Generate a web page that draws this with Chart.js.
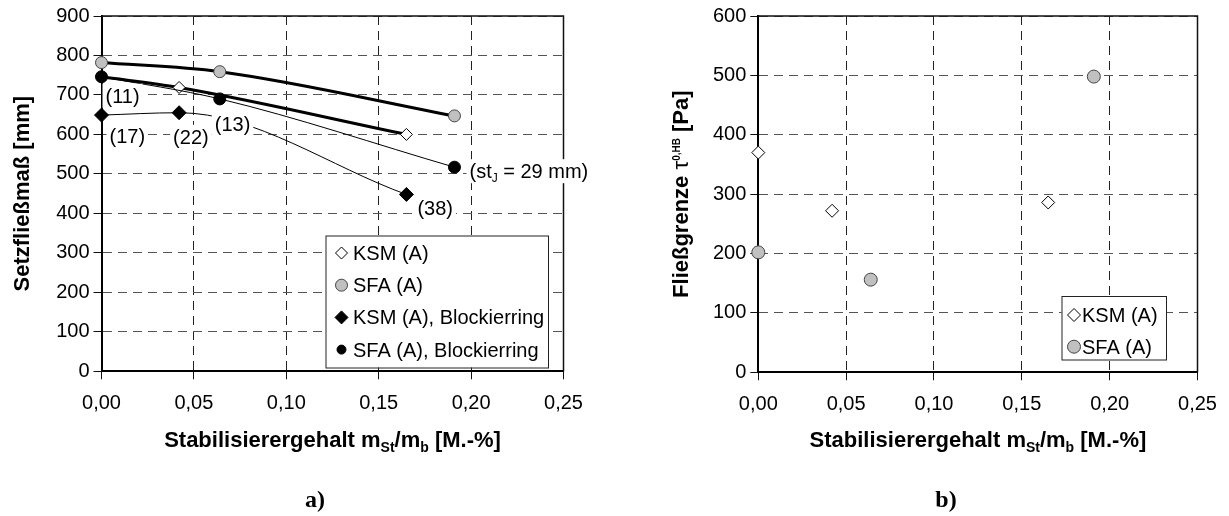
<!DOCTYPE html>
<html>
<head>
<meta charset="utf-8">
<script src="https://cdn.jsdelivr.net/npm/chart.js@4.4.0/dist/chart.umd.min.js"></script>
<style>
  html, body { margin: 0; padding: 0; background: #fff; }
  #wrap { position: relative; width: 1229px; height: 516px; overflow: hidden; }
  canvas { position: absolute; top: 0; }
  #chartA { left: 0; }
  #chartB { left: 615px; }
  .tag { position: absolute; top: 486px; transform: translateX(-50%);
         font: bold 24px 'Liberation Serif', 'Times New Roman', serif; color: #000; }
</style>
</head>
<body>
<div id="wrap">
  <canvas id="chartA" width="615" height="516"></canvas>
  <canvas id="chartB" width="614" height="516"></canvas>
  <div class="tag" style="left:315px">a)</div>
  <div class="tag" style="left:946px">b)</div>
</div>
<script>
// Stabilisierergehalt m_St/m_b [M.-%]
const ksmX = [0, 0.042, 0.165];
const sfaX = [0, 0.064, 0.191];

// a) Setzfließmaß [mm]
const ksmSlump = [746, 719, 600];
const sfaSlump = [782, 759, 647];
const ksmRingSlump = [649, 655, 448];
const sfaRingSlump = [746, 690, 517];

// Stufenhöhe st_J beim Blockierring [mm]
const ksmRingStep = [17, 22, 38];
const sfaRingStep = [11, 13, 29];

// b) Fließgrenze tau_0,HB [Pa]
const ksmYield = [370, 272, 286];
const sfaYield = [202, 156, 498];

const xTicks = [0, 0.05, 0.1, 0.15, 0.2, 0.25];

const FONT = "'Liberation Sans', Arial, Helvetica, sans-serif";
const font = (size, bold) => (bold ? 'bold ' : '') + size + 'px ' + FONT;
const pts = (xs, ys) => xs.map((x, i) => ({ x, y: ys[i] }));

// text made of runs with own size / baseline shift (for sub- and superscripts)
function richWidth(ctx, parts) {
  let w = 0;
  parts.forEach(p => { ctx.font = font(p.size, p.bold); w += ctx.measureText(p.t).width; });
  return w;
}
function drawRich(ctx, parts, x, y, align) {
  let cx = align === 'center' ? x - richWidth(ctx, parts) / 2 : x;
  ctx.textBaseline = 'alphabetic';
  ctx.textAlign = 'left';
  parts.forEach(p => {
    ctx.font = font(p.size, p.bold);
    ctx.fillText(p.t, cx, y + (p.dy || 0));
    cx += ctx.measureText(p.t).width;
  });
}

function drawMarker(ctx, style, r, fill, stroke, x, y) {
  ctx.beginPath();
  if (style === 'rectRot') {
    ctx.moveTo(x, y - r); ctx.lineTo(x + r, y); ctx.lineTo(x, y + r); ctx.lineTo(x - r, y);
    ctx.closePath();
  } else {
    ctx.arc(x, y, r, 0, Math.PI * 2);
  }
  ctx.fillStyle = fill; ctx.fill();
  ctx.lineWidth = 1; ctx.strokeStyle = stroke; ctx.stroke();
}

function stepParts(v, long) {
  if (long) {
    return [{ t: '(st', size: 20 }, { t: 'J', size: 12, dy: 4 }, { t: ' = ' + v + ' mm)', size: 20 }];
  }
  return [{ t: '(' + v + ')', size: 20 }];
}

// frame, axis titles, step-height notes and legend
function decor(cfg) {
  return {
    id: 'decor',
    afterDraw(chart) {
      const ctx = chart.ctx;
      const a = chart.chartArea;
      const xs = chart.scales.x, ys = chart.scales.y;
      ctx.save();

      ctx.strokeStyle = '#111';
      ctx.lineWidth = 1.5;
      ctx.beginPath();
      ctx.moveTo(a.left, a.top);
      ctx.lineTo(a.right, a.top);
      ctx.lineTo(a.right, a.bottom);
      ctx.stroke();

      ctx.fillStyle = '#000';
      drawRich(ctx, cfg.xTitle, (a.left + a.right) / 2, cfg.xTitleY, 'center');
      ctx.save();
      ctx.translate(cfg.yTitleX, (a.top + a.bottom) / 2);
      ctx.rotate(-Math.PI / 2);
      drawRich(ctx, cfg.yTitle, 0, 0, 'center');
      ctx.restore();

      (cfg.notes || []).forEach(n => {
        const px = xs.getPixelForValue(n.x) + n.dx;
        const py = ys.getPixelForValue(n.y) + n.dy;
        const w = richWidth(ctx, n.parts);
        ctx.fillStyle = '#fff';
        ctx.fillRect(px - 3, py - 12, w + 6, 24);
        ctx.fillStyle = '#000';
        drawRich(ctx, n.parts, px, py + 7, 'left');
      });

      const lg = cfg.legend;
      ctx.fillStyle = '#fff';
      ctx.fillRect(lg.box[0], lg.box[1], lg.box[2], lg.box[3]);
      ctx.strokeStyle = '#222';
      ctx.lineWidth = 1;
      ctx.strokeRect(lg.box[0] + 0.5, lg.box[1] + 0.5, lg.box[2], lg.box[3]);
      lg.items.forEach((idx, k) => {
        const ds = chart.data.datasets[idx];
        const y = lg.top + k * lg.step;
        drawMarker(ctx, ds.pointStyle, ds.legendRadius || ds.pointRadius,
          ds.pointBackgroundColor, ds.pointBorderColor, lg.markerX, y);
        ctx.fillStyle = '#000';
        drawRich(ctx, [{ t: ds.label, size: 20 }], lg.textX, y + 7, 'left');
      });
      ctx.restore();
    }
  };
}

const xTitle = [
  { t: 'Stabilisierergehalt m', size: 22, bold: true },
  { t: 'St', size: 14, bold: true, dy: 5 },
  { t: '/m', size: 22, bold: true },
  { t: 'b', size: 14, bold: true, dy: 5 },
  { t: ' [M.-%]', size: 22, bold: true }
];

function axes(yMax, yWidth, xHeight) {
  return {
    x: {
      type: 'linear', min: 0, max: 0.25,
      afterBuildTicks: s => { s.ticks = xTicks.map(v => ({ value: v })); },
      ticks: {
        color: '#000', font: { family: FONT, size: 20 }, padding: 12, maxRotation: 0,
        callback: v => v.toFixed(2).replace('.', ',')
      },
      grid: { color: '#222', lineWidth: 1, tickLength: 8, tickColor: '#111' },
      border: { color: '#000', width: 2, dash: [9, 6] },
      afterFit: s => { s.height = xHeight; }
    },
    y: {
      type: 'linear', min: 0, max: yMax,
      ticks: { stepSize: 100, color: '#000', font: { family: FONT, size: 20 }, padding: 4 },
      grid: { color: '#555', lineWidth: 1, tickLength: 8, tickColor: '#111' },
      border: { color: '#000', width: 2, dash: [9, 6] },
      afterFit: s => { s.width = yWidth; }
    }
  };
}

const common = {
  responsive: false,
  devicePixelRatio: 1,
  animation: false,
  events: [],
  plugins: { legend: { display: false }, tooltip: { enabled: false } }
};

// a) Setzfließmaß with and without Blockierring
const lineSet = (label, xs, ys, o) => Object.assign({
  label,
  data: pts(xs, ys),
  borderColor: '#000',
  cubicInterpolationMode: 'monotone',
  pointBorderWidth: 1,
  clip: false
}, o);

const notes = [];
sfaRingStep.forEach((v, i) => notes.push({ x: sfaX[i], y: sfaRingSlump[i], set: 'sfa', i, v }));
ksmRingStep.forEach((v, i) => notes.push({ x: ksmX[i], y: ksmRingSlump[i], set: 'ksm', i, v }));
const noteOffset = {
  sfa: [[4, 19], [-5, 25], [15, 4]],
  ksm: [[8, 21], [-6, 24], [11, 14]]
};
notes.forEach(n => {
  n.dx = noteOffset[n.set][n.i][0];
  n.dy = noteOffset[n.set][n.i][1];
  n.parts = stepParts(n.v, n.set === 'sfa' && n.i === sfaRingStep.length - 1);
});

new Chart(document.getElementById('chartA'), {
  type: 'line',
  data: {
    datasets: [
      lineSet('KSM (A)', ksmX, ksmSlump, {
        borderWidth: 3, pointStyle: 'rectRot', pointRadius: 6,
        pointBackgroundColor: '#fff', pointBorderColor: '#000', order: 2
      }),
      lineSet('SFA (A)', sfaX, sfaSlump, {
        borderWidth: 3, pointStyle: 'circle', pointRadius: 6,
        pointBackgroundColor: '#c0c0c0', pointBorderColor: '#444', order: 3
      }),
      lineSet('KSM (A), Blockierring', ksmX, ksmRingSlump, {
        borderWidth: 1, pointStyle: 'rectRot', pointRadius: 7,
        pointBackgroundColor: '#000', pointBorderColor: '#000', order: 1, legendRadius: 6.5
      }),
      lineSet('SFA (A), Blockierring', sfaX, sfaRingSlump, {
        borderWidth: 1, pointStyle: 'circle', pointRadius: 6,
        pointBackgroundColor: '#000', pointBorderColor: '#000', order: 0, legendRadius: 4.5
      })
    ]
  },
  options: Object.assign({}, common, {
    layout: { padding: { top: 16, right: 51.5, bottom: 0, left: 0 } },
    scales: axes(900, 101.5, 144.7)
  }),
  plugins: [decor({
    xTitle, xTitleY: 447,
    yTitle: [{ t: 'Setzfließmaß [mm]', size: 22, bold: true }], yTitleX: 29,
    notes,
    legend: { box: [325.5, 235.5, 222.5, 132], items: [0, 1, 2, 3], top: 253, step: 32.2, markerX: 341.5, textX: 353 }
  })]
});

// b) Fließgrenze
new Chart(document.getElementById('chartB'), {
  type: 'scatter',
  data: {
    datasets: [
      { label: 'KSM (A)', data: pts(ksmX, ksmYield), pointStyle: 'rectRot', pointRadius: 6.5,
        pointBackgroundColor: '#fff', pointBorderColor: '#000', pointBorderWidth: 1, clip: false },
      { label: 'SFA (A)', data: pts(sfaX, sfaYield), pointStyle: 'circle', pointRadius: 6.5,
        pointBackgroundColor: '#c0c0c0', pointBorderColor: '#444', pointBorderWidth: 1, clip: false }
    ]
  },
  options: Object.assign({}, common, {
    layout: { padding: { top: 14.5, right: 31.5, bottom: 0, left: 0 } },
    scales: axes(600, 143.3, 143.7)
  }),
  plugins: [decor({
    xTitle, xTitleY: 447,
    yTitle: [
      { t: 'Fließgrenze ', size: 22, bold: true },
      { t: 'τ', size: 22 },
      { t: '0,HB', size: 10, bold: true, dy: -8 },
      { t: ' [Pa]', size: 22, bold: true }
    ],
    yTitleX: 73,
    legend: { box: [446.5, 296, 104.5, 63.5], items: [0, 1], top: 315, step: 31.7, markerX: 459, textX: 467 }
  })]
});
</script>
</body>
</html>
